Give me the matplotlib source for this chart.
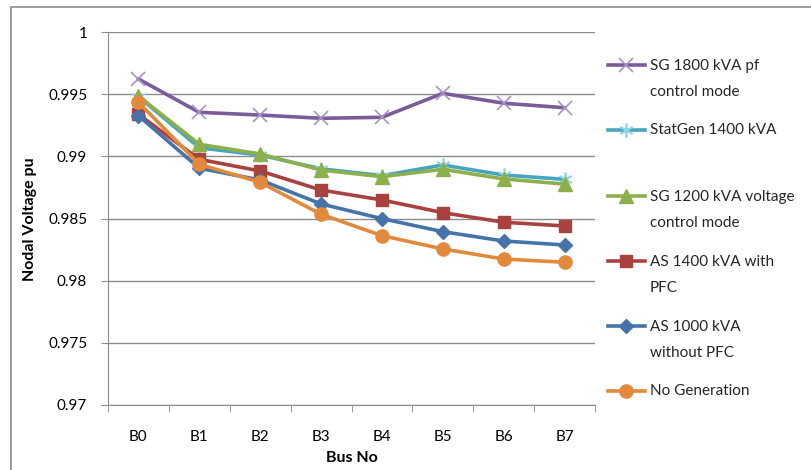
import numpy as np
import matplotlib
matplotlib.use('Agg')
import matplotlib.pyplot as plt
from matplotlib.lines import Line2D
from matplotlib.patches import Rectangle

plt.rcParams['font.family'] = ['Lato', 'DejaVu Sans']

## data
buses = ['B0', 'B1', 'B2', 'B3', 'B4', 'B5', 'B6', 'B7']
sg1800 = [0.99622, 0.99354, 0.99332, 0.99306, 0.99314, 0.99507, 0.99427, 0.99391]
statgen = [0.99480, 0.99069, 0.99010, 0.98900, 0.98845, 0.98930, 0.98850, 0.98815]
sg1200 = [0.99485, 0.99097, 0.99019, 0.98890, 0.98836, 0.98896, 0.98818, 0.98777]
as1400 = [0.99338, 0.98976, 0.98882, 0.98729, 0.98649, 0.98547, 0.98470, 0.98440]
as1000 = [0.99327, 0.98904, 0.98810, 0.98617, 0.98499, 0.98394, 0.98319, 0.98287]
nogen = [0.99435, 0.98936, 0.98791, 0.98534, 0.98362, 0.98255, 0.98174, 0.98148]

labels = ['SG 1800 kVA pf\ncontrol mode', 'StatGen 1400 kVA',
          'SG 1200 kVA voltage\ncontrol mode', 'AS 1400 kVA with\nPFC',
          'AS 1000 kVA\nwithout PFC', 'No Generation']

## style per series: line colour, marker, size, face, edge
styles = [
    dict(color='#7A5C9A', marker='x', ms=10, mfc='none', mec='#A793C4', mew=1.2),
    dict(color='#46A5BF', marker=(6, 2, 0), ms=10, mfc='none', mec='#8FD3E6', mew=1.2),
    dict(color='#8DB04D', marker='^', ms=10, mfc='#8DB04D', mec='#8DB04D', mew=1),
    dict(color='#A9423F', marker='s', ms=9, mfc='#A9423F', mec='#A9423F', mew=1),
    dict(color='#4674AA', marker='D', ms=7.5, mfc='#4674AA', mec='#4674AA', mew=1),
    dict(color='#E3893B', marker='o', ms=9.5, mfc='#E3893B', mec='#E3893B', mew=1),
]
series = [sg1800, statgen, sg1200, as1400, as1000, nogen]

W, H = 812, 470
fig = plt.figure(figsize=(W / 100, H / 100), dpi=100)
ax = fig.add_axes([108 / W, 1 - 405 / H, (595 - 108) / W, (405 - 32) / H])

x = np.arange(len(buses))
for s, st in zip(series, styles):
    ax.plot(x, s, lw=2.6, solid_joinstyle='round', **st)

ax.set_xlim(-0.5, len(buses) - 0.5)
ax.set_ylim(0.97, 1.0)
ax.set_yticks(np.arange(0.97, 1.0001, 0.005))
ax.set_yticklabels(['%g' % round(v, 3) for v in np.arange(0.97, 1.0001, 0.005)])
ax.yaxis.grid(True, color='#8C8C8C', lw=1)
ax.set_axisbelow(True)
ax.set_xticks(x)
ax.set_xticklabels(buses)
ax.set_xticks(np.arange(-0.5, len(buses)), minor=True)
ax.tick_params(axis='x', which='major', length=0, pad=18, labelsize=11)
ax.tick_params(axis='x', which='minor', length=5, color='#8C8C8C', direction='out')
ax.tick_params(axis='y', length=5, color='#8C8C8C', labelsize=11, pad=10)
for sp in ['top', 'right']:
    ax.spines[sp].set_visible(False)
for sp in ['left', 'bottom']:
    ax.spines[sp].set_color('#8C8C8C')

fig.text(30 / W, 1 - 219 / H, 'Nodal Voltage pu', rotation=90, ha='center', va='center',
         fontsize=11.5, fontweight='bold')
fig.text(352 / W, 1 - 458 / H, 'Bus No', ha='center', va='center',
         fontsize=11.5, fontweight='bold')

## legend drawn by hand so the handle lines up with the first text line
leg_y = [65, 130, 196, 261, 326, 391]
for lab, st, yy in zip(labels, styles, leg_y):
    yf = 1 - yy / H
    fig.add_artist(Line2D([608 / W, 645 / W], [yf, yf], lw=2.6, color=st['color'],
                          transform=fig.transFigure))
    fig.add_artist(Line2D([626.5 / W], [yf], marker=st['marker'], ms=st['ms'],
                          mfc=st['mfc'], mec=st['mec'], mew=st['mew'],
                          transform=fig.transFigure))
    if '\n' in lab:
        fig.text(650 / W, yf + 6 / H, lab, ha='left', va='top',
                 fontsize=11, linespacing=2.05, color='#262626')
    else:
        fig.text(650 / W, yf, lab, ha='left', va='center',
                 fontsize=11, color='#262626')

## outer chart frame
fig.add_artist(Rectangle((11 / W, -0.05), 1.0, 1.05 - 7 / H, fill=False,
                         edgecolor='#8C8C8C', lw=1.2, transform=fig.transFigure))

fig.savefig('out.png', dpi=100)
